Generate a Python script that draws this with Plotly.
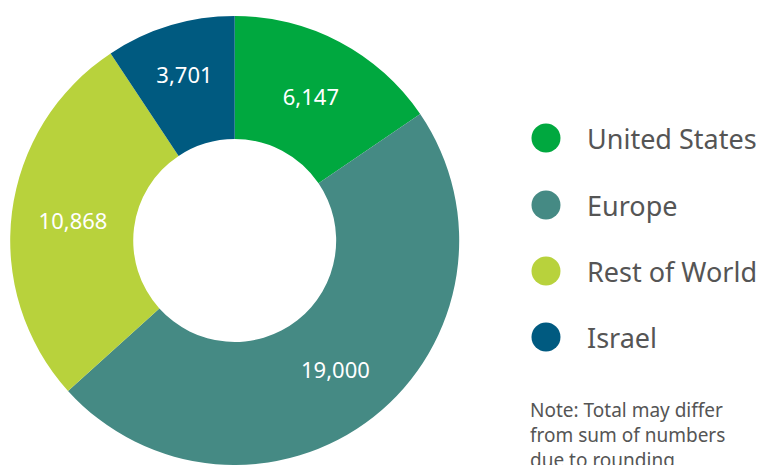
import plotly.graph_objects as go

W, H = 758, 465

regions = ["United States", "Europe", "Rest of World", "Israel"]
values = [6147, 19000, 10868, 3701]
colors = ["#00A83F", "#458A84", "#B8D23C", "#005A80"]
note_lines = ["Note: Total may differ", "from sum of numbers", "due to rounding"]

fig = go.Figure()
fig.add_trace(go.Pie(
    labels=regions,
    values=values,
    sort=False,
    direction="clockwise",
    rotation=0,
    hole=0.452,
    marker=dict(colors=colors, line=dict(width=0)),
    texttemplate="%{value:,}",
    textposition="inside",
    insidetextorientation="horizontal",
    textfont=dict(family="Noto Sans", size=22, color="white"),
    domain=dict(x=[10.2 / W, 459.2 / W], y=[0, 1 - 16 / H]),
    showlegend=False,
    hoverinfo="label+value",
))

shapes = []
annotations = []
leg_y = [138, 205, 271, 337]
r = 14.5
cx = 546
for name, col, yy in zip(regions, colors, leg_y):
    shapes.append(dict(type="circle", xref="paper", yref="paper",
                       x0=(cx - r) / W, x1=(cx + r) / W,
                       y0=1 - (yy + r) / H, y1=1 - (yy - r) / H,
                       fillcolor=col, line=dict(width=0)))
    annotations.append(dict(text=name, xref="paper", yref="paper",
                            x=585 / W, y=1 - yy / H, xanchor="left", yanchor="middle",
                            showarrow=False,
                            font=dict(family="Noto Sans", size=27, color="#555555")))

for i, line in enumerate(note_lines):
    annotations.append(dict(text=line, xref="paper", yref="paper",
                            x=528 / W, y=1 - (410 + i * 25) / H, xanchor="left", yanchor="middle",
                            showarrow=False,
                            font=dict(family="Noto Sans", size=19, color="#555555")))

fig.update_layout(
    width=W, height=H,
    margin=dict(l=0, r=0, t=0, b=0),
    paper_bgcolor="white", plot_bgcolor="white",
    shapes=shapes, annotations=annotations,
)

fig.write_html("out.html", config={"displayModeBar": False},
               post_script="document.body.style.margin='0px';")
